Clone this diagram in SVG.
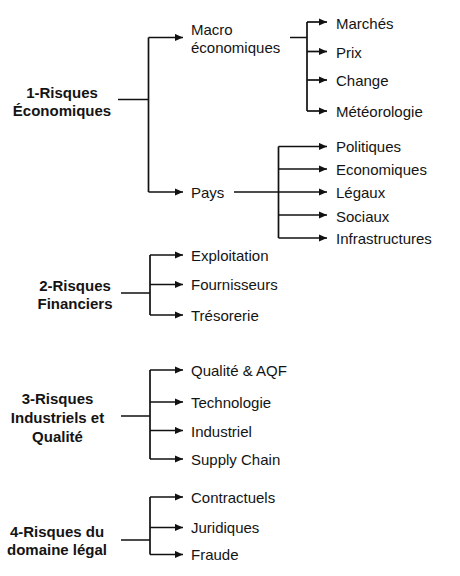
<svg xmlns="http://www.w3.org/2000/svg" width="460" height="576" viewBox="0 0 460 576">
<style>
text{font-family:"Liberation Sans",Arial,sans-serif;font-size:15px;fill:#141414}
.root{font-weight:bold;text-anchor:middle}
.c{fill:none;stroke:#111111;stroke-width:1.7}
.a{marker-end:url(#arr)}
</style>
<defs>
<marker id="arr" markerUnits="userSpaceOnUse" markerWidth="9" markerHeight="8" refX="8.5" refY="4" orient="auto">
<path d="M0,0.2 L8.5,4 L0,7.8 Z" fill="#111111"/>
</marker>
</defs>
<rect width="460" height="576" fill="#ffffff"/>
<g id="connectors">
<path class="c" d="M118,99.5 H148.5 M148.5,37.5 V192 M290,37.5 H307 M307,22 V111 M278.5,146.5 V238 M121,293 H150 M150,255 V315 M121,416 H150 M150,370 V459 M121,540 H150 M150,497 V554.5"/>
<path class="c a" d="M148.5,37.5 H183"/>
<path class="c a" d="M148.5,192 H183"/>
<path class="c a" d="M307,22 H327"/>
<path class="c a" d="M307,51.5 H327"/>
<path class="c a" d="M307,80 H327"/>
<path class="c a" d="M307,111 H327"/>
<path class="c a" d="M234,192 H327"/>
<path class="c a" d="M278.5,146.5 H327"/>
<path class="c a" d="M278.5,169 H327"/>
<path class="c a" d="M278.5,215 H327"/>
<path class="c a" d="M278.5,238 H327"/>
<path class="c a" d="M150,255 H183"/>
<path class="c a" d="M150,284.5 H183"/>
<path class="c a" d="M150,315 H183"/>
<path class="c a" d="M150,370 H183"/>
<path class="c a" d="M150,402 H183"/>
<path class="c a" d="M150,430.5 H183"/>
<path class="c a" d="M150,459 H183"/>
<path class="c a" d="M150,497 H183"/>
<path class="c a" d="M150,527.5 H183"/>
<path class="c a" d="M150,554.5 H183"/>
</g>
<g id="risques-economiques"><text class="root" x="62" y="97.5">1-Risques</text><text class="root" x="62" y="115.5">Économiques</text></g>
<g id="macro"><text x="191" y="35">Macro</text><text x="191" y="53">économiques</text></g>
<g id="pays"><text x="191" y="198">Pays</text></g>
<g id="marches"><text x="336" y="29">Marchés</text></g>
<g id="prix"><text x="336" y="57.5">Prix</text></g>
<g id="change"><text x="336" y="86">Change</text></g>
<g id="meteorologie"><text x="336" y="116.5">Météorologie</text></g>
<g id="politiques"><text x="336" y="151.5">Politiques</text></g>
<g id="economiques"><text x="336" y="175">Economiques</text></g>
<g id="legaux"><text x="336" y="198">Légaux</text></g>
<g id="sociaux"><text x="336" y="221.5">Sociaux</text></g>
<g id="infrastructures"><text x="336" y="244">Infrastructures</text></g>
<g id="risques-financiers"><text class="root" x="75" y="291">2-Risques</text><text class="root" x="75" y="309">Financiers</text></g>
<g id="exploitation"><text x="191" y="261">Exploitation</text></g>
<g id="fournisseurs"><text x="191" y="290">Fournisseurs</text></g>
<g id="tresorerie"><text x="191" y="320.5">Trésorerie</text></g>
<g id="risques-industriels"><text class="root" x="57.5" y="404">3-Risques</text><text class="root" x="57.5" y="423">Industriels et</text><text class="root" x="57.5" y="441.5">Qualité</text></g>
<g id="qualite-aqf"><text x="191" y="376">Qualité &amp; AQF</text></g>
<g id="technologie"><text x="191" y="408">Technologie</text></g>
<g id="industriel"><text x="191" y="436.5">Industriel</text></g>
<g id="supply-chain"><text x="191" y="465">Supply Chain</text></g>
<g id="risques-legal"><text class="root" x="57" y="537">4-Risques du</text><text class="root" x="57" y="555">domaine légal</text></g>
<g id="contractuels"><text x="191" y="503">Contractuels</text></g>
<g id="juridiques"><text x="191" y="533">Juridiques</text></g>
<g id="fraude"><text x="191" y="560">Fraude</text></g>
</svg>
